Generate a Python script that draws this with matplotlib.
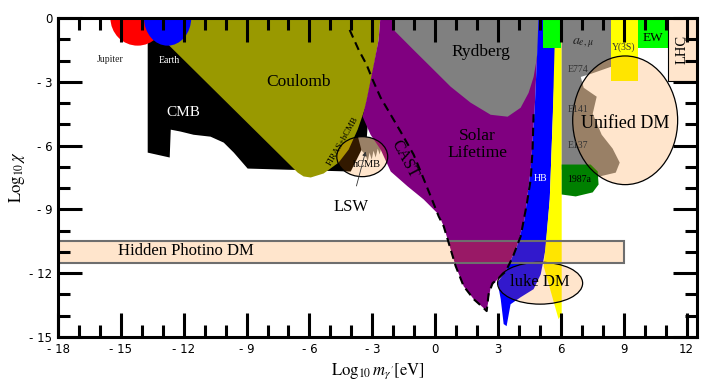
import numpy as np
import matplotlib.pyplot as plt
from matplotlib.patches import Polygon, Ellipse, Rectangle

plt.rcParams['font.family'] = 'Liberation Serif'
plt.rcParams['mathtext.fontset'] = 'stix'

# excluded regions, outlines (log10 m [eV], log10 chi)
cmb_x = [-13.72, -8.33, -3.17, -3.27, -4.03, -8.95, -9.61, -10.09, -10.72, -11.53, -12.15, -12.62, -12.67, -13.72]
cmb_y = [-0.80, -0.80, -4.41, -5.72, -7.22, -7.08, -6.33, -5.86, -5.58, -5.49, -5.34, -5.25, -6.56, -6.33]

coul_x = [-13.10, -12.72, -6.56, -6.28, -5.94, -5.32, -4.61, -4.13, -3.70, -3.32, -2.98, -2.70, -2.60]
coul_y = [0.2, -1.27, -7.27, -7.45, -7.50, -7.31, -6.80, -6.19, -5.25, -4.17, -2.58, -1.03, 0.2]

lsw_x = [-3.70, -2.84, -2.36, -2.32, -2.46, -2.55, -2.65, -2.74, -2.84, -2.94, -3.03, -3.13, -3.22, -3.32, -3.51]
lsw_y = [-5.53, -5.58, -5.86, -6.19, -6.28, -6.00, -6.42, -6.14, -6.56, -6.24, -6.66, -6.33, -6.75, -6.42, -6.24]

solar_x = [-2.60, 5.27, 4.89, 4.75, 4.56, 4.27, 3.89, 3.37, 2.98, 2.65, 2.46, 2.27, 1.84, 1.36, 0.98, 0.74,
           0.41, 0.17, -0.55, -1.31, -2.12, -2.60, -3.08, -3.46, -3.27, -2.98, -2.70]
solar_y = [0.2, 0.2, -1.17, -4.31, -7.13, -9.47, -10.78, -11.91, -12.28, -12.66, -13.78, -13.60, -13.22, -12.61,
           -11.67, -10.88, -9.80, -9.24, -8.53, -7.92, -7.22, -6.19, -5.49, -4.64, -3.84, -2.44, -1.03]

ryd_x = [-2.12, -1.98, -1.03, -0.21, 0.74, 1.69, 2.65, 3.46, 4.08, 4.46, 4.70, 4.84, 4.99, 5.04]
ryd_y = [0.2, -0.56, -1.50, -2.30, -3.23, -3.98, -4.55, -4.64, -4.22, -3.52, -2.77, -1.97, -0.56, 0.2]

hb_x = [4.94, 5.80, 5.75, 5.61, 5.47, 5.27, 5.04, 4.70, 4.08, 3.60, 3.41, 3.27, 3.13, 2.98, 3.37, 3.89, 4.27, 4.56, 4.75, 4.89]
hb_y = [0.2, 0.2, -1.41, -4.78, -8.53, -10.88, -12.05, -12.75, -13.13, -13.46, -14.49, -14.39, -13.22, -12.42,
        -11.91, -10.78, -9.47, -7.13, -4.31, -1.17]

sn_x = [5.70, 6.04, 6.04, 5.89, 5.18, 5.47, 5.61, 5.70]
sn_y = [0.2, 0.2, -13.92, -14.16, -11.67, -8.53, -4.78, -1.41]

ae_x = [6.04, 8.62, 8.52, 7.42, 6.95, 7.09, 7.71, 7.52, 7.95, 8.47, 8.81, 8.62, 7.85, 6.71, 6.04]
ae_y = [0.2, 0.2, -2.25, -2.63, -2.77, -3.28, -3.70, -4.50, -5.49, -6.14, -6.80, -7.27, -7.45, -7.22, -7.13]

sn87_x = [6.04, 7.42, 7.76, 7.80, 7.52, 6.71, 6.04]
sn87_y = [-6.89, -6.89, -7.22, -7.83, -8.20, -8.39, -8.30]

cast_x = [-4.08, -3.65, -3.27, -2.98, -2.60, -2.12, -1.65, -1.03, -0.69, -0.21, 0.17, 0.41, 0.74, 0.98, 1.36,
          1.84, 2.27, 2.46, 2.55, 2.74, 2.98, 3.37, 3.70, 4.08, 4.37, 4.56, 4.65, 4.70]
cast_y = [-0.56, -1.50, -2.20, -2.91, -3.75, -4.55, -5.34, -6.42, -7.22, -8.39, -9.33, -9.80, -10.88, -11.67,
          -12.61, -13.22, -13.60, -13.78, -12.99, -12.47, -12.28, -11.91, -11.25, -10.27, -8.77, -7.59, -6.19, -4.45]

# (x0, x1, y0, y1) boxes
gm2_box = (5.13, 5.99, -1.41, 0.2)
y3s_box = (8.38, 9.67, -2.95, 0.2)
ew_box = (9.67, 11.10, -1.41, 0.2)
lhc_box = (11.10, 12.6, -2.95, 0.2)
photino_box = (-18.5, 9.0, -11.5, -10.5)

# (x, y, width, height) planet bounds and DM ellipses
jupiter = (-14.2, 0.0, 2.6, 2.6)
earth = (-12.77, 0.0, 2.25, 2.6)
hcmb_ell = (-3.48, -6.52, 2.43, 1.88)
unified_ell = (9.07, -4.81, 5.01, 6.05)
luke_ell = (5.01, -12.47, 4.06, 1.97)

olive = '#999900'
overlay = (1.0, 0.5, 0.0, 0.2)

fig = plt.figure(figsize=(7.06, 3.83), dpi=100)
ax = fig.add_axes([0.0822, 0.1201, 0.9051, 0.8329])


def poly(xs, ys, color, **kw):
    p = Polygon(np.column_stack([xs, ys]), closed=True, facecolor=color, edgecolor='none', **kw)
    ax.add_patch(p)
    return p


def box(b, color, **kw):
    r = Rectangle((b[0], b[2]), b[1] - b[0], b[3] - b[2], facecolor=color, **kw)
    ax.add_patch(r)
    return r


def ell(e, **kw):
    p = Ellipse((e[0], e[1]), e[2], e[3], **kw)
    ax.add_patch(p)
    return p


poly(cmb_x, cmb_y, 'black')
poly(coul_x, coul_y, olive)
ell(jupiter, facecolor='red', edgecolor='none')
ell(earth, facecolor='blue', edgecolor='none')
lsw = poly(lsw_x, lsw_y, 'gray')
clip = Ellipse((hcmb_ell[0], hcmb_ell[1]), hcmb_ell[2], hcmb_ell[3], transform=ax.transData)
lsw.set_clip_path(clip)
poly(solar_x, solar_y, 'purple')
poly(ryd_x, ryd_y, 'gray')
poly(hb_x, hb_y, 'blue')
poly(sn_x, sn_y, 'yellow')
box(gm2_box, '#00ff00', edgecolor='none')
poly(ae_x, ae_y, 'gray')
poly(sn87_x, sn87_y, '#008000')
box(y3s_box, 'yellow', edgecolor='none')
box(ew_box, '#00ff00', edgecolor='none')
box(lhc_box, overlay, edgecolor='black', lw=0.8)

ell(hcmb_ell, facecolor=overlay, edgecolor='black', lw=0.9)
ell(unified_ell, facecolor=overlay, edgecolor='black', lw=0.9)
ell(luke_ell, facecolor=overlay, edgecolor='black', lw=0.9)
box(photino_box, overlay, edgecolor='#6e6e6e', lw=1.5)

ax.plot(cast_x, cast_y, 'k--', lw=1.5, dashes=(4, 2.5))

# labels
ax.text(-15.49, -1.97, 'Jupiter', fontsize=7, ha='center', va='center', color='#222222')
ax.text(-12.67, -2.02, 'Earth', fontsize=7, ha='center', va='center', color='white')
ax.text(-12.0, -4.45, 'CMB', fontsize=11, ha='center', va='center', color='white')
ax.text(-6.51, -3.0, 'Coulomb', fontsize=12.5, ha='center', va='center')
ax.text(2.17, -1.59, 'Rydberg', fontsize=12.5, ha='center', va='center')
ax.text(2.03, -5.95, 'Solar\nLifetime', fontsize=12.5, ha='center', va='center', linespacing=1.15)
ax.text(-4.40, -5.80, 'FIRAS+hCMB', fontsize=6.5, ha='center', va='center', rotation=60)
ax.text(-3.27, -6.89, 'hCMB', fontsize=7.5, ha='center', va='center')
ax.annotate('LSW', xy=(-3.32, -6.28), xytext=(-4.03, -8.91), fontsize=12, ha='center', va='center',
            arrowprops=dict(arrowstyle='-|>', lw=0.6, color='#333333', mutation_scale=6, shrinkA=8, shrinkB=0))
ax.text(-1.45, -6.66, 'CAST', fontsize=11.5, ha='center', va='center', rotation=-62)
ax.text(5.04, -7.55, 'HB', fontsize=7, ha='center', va='center', color='white')
ax.text(7.04, -1.17, r'$a_{e,\mu}$', fontsize=10, ha='center', va='center', color='#222222')
ax.text(6.80, -2.44, 'E774', fontsize=7, ha='center', va='center', color='#333333')
ax.text(6.80, -4.31, 'E141', fontsize=7, ha='center', va='center', color='#333333')
ax.text(6.80, -6.0, 'E137', fontsize=7, ha='center', va='center', color='#333333')
ax.text(6.85, -7.59, '1987a', fontsize=7, ha='center', va='center')
ax.text(9.0, -1.36, 'Y(3S)', fontsize=7, ha='center', va='center', color='#333333')
ax.text(10.38, -0.94, 'EW', fontsize=9.5, ha='center', va='center')
ax.text(11.81, -1.5, 'LHC', fontsize=10.5, ha='center', va='center', rotation=90)
ax.text(9.05, -4.97, 'Unified DM', fontsize=13, ha='center', va='center')
ax.text(5.0, -12.42, 'luke DM', fontsize=12, ha='center', va='center')
ax.text(-11.91, -10.95, 'Hidden Photino DM', fontsize=12, ha='center', va='center')

ax.set_xlim(-18, 12.5)
ax.set_ylim(-15, 0)

xt = np.arange(-18, 13, 3)
yt = np.arange(-15, 1, 3)
ax.set_xticks(xt)
ax.set_yticks(yt)
ax.set_xticks(np.arange(-18, 13, 1), minor=True)
ax.set_yticks(np.arange(-15, 1, 1), minor=True)
fmt = lambda v: ('- %d' % -v) if v < 0 else '%d' % v
ax.set_xticklabels([fmt(v) for v in xt], family='DejaVu Sans', fontsize=8.5)
ax.set_yticklabels([fmt(v) for v in yt], family='DejaVu Sans', fontsize=8.5)
ax.tick_params(which='both', direction='in', top=True, right=True, width=2.2)
ax.tick_params(which='major', length=17, pad=4)
ax.tick_params(which='minor', length=8.5)
for s in ax.spines.values():
    s.set_linewidth(2.2)

ax.set_xlabel(r"$\mathrm{Log}_{10}\,m_{\gamma'}[\mathrm{eV}]$", fontsize=12, labelpad=4)
ax.set_ylabel(r'$\mathrm{Log}_{10}\,\chi$', fontsize=12, labelpad=2)

fig.savefig('out.png', dpi=100)
